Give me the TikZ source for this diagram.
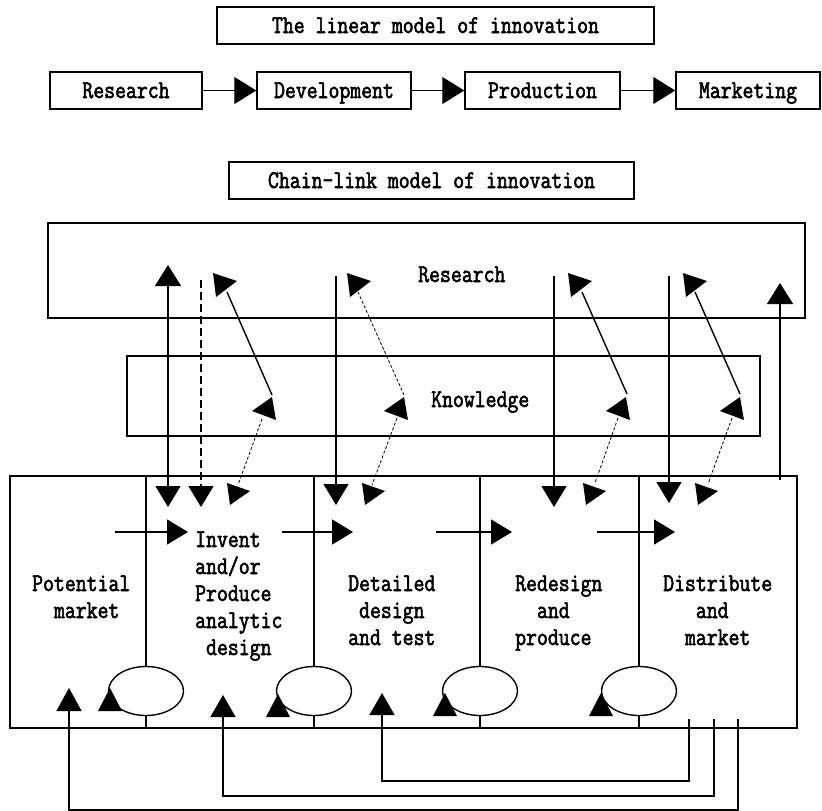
\documentclass[tikz,border=0pt]{standalone}
\usepackage{fontspec}
\newfontfamily\diagfont{Latin Modern Mono}[FakeStretch=0.83,FakeBold=2.2]
\usetikzlibrary{arrows.meta,shapes.geometric}

\begin{document}
\begin{tikzpicture}[x=1pt,y=-1pt,
  font=\diagfont\fontsize{25.5}{27}\selectfont,
  box/.style={draw,line width=1.5pt,inner sep=0pt,text height=15pt,text depth=0pt},
  conn/.style={line width=1.4pt},
  dots/.style={line width=0.8pt,dash pattern=on 3pt off 2pt},
  dashline/.style={line width=1.4pt,dash pattern=on 8pt off 4pt},
  coltext/.style={anchor=base west,inner sep=0pt},
  loop/.style={draw,ellipse,line width=1.4pt,minimum width=75pt,minimum height=49pt,inner sep=0pt},
  Hd/.tip={Triangle[length=21pt,width=25pt]},
  Hl/.tip={Triangle[length=22pt,width=27pt]},
  rhead/.pic={\fill (0,0) -- (24,8) -- (3,24) -- cycle;},
  khead/.pic={\fill (0,0) -- (-20,14) -- (4,23) -- cycle;},
  chead/.pic={\fill (0,0) -- (23,8) -- (3,22) -- cycle;},
  uhead/.pic={\fill (-12,0) -- (12,0) -- (0,-23) -- cycle;}
]
\useasboundingbox (0,0) rectangle (822,811);

% ---- linear model ----
\node[box,minimum width=437pt,minimum height=37pt] (ltitle) at (435.5,25.5) {The linear model of innovation};
\node[box,minimum width=152pt,minimum height=37pt] (lres) at (126,90.5) {Research};
\node[box,minimum width=154pt,minimum height=37pt] (ldev) at (334,90.5) {Development};
\node[box,minimum width=155pt,minimum height=37pt] (lpro) at (542.5,90.5) {Production};
\node[box,minimum width=144pt,minimum height=37pt] (lmar) at (748,90.5) {Marketing};
\draw[conn,-Hl] (lres.east) -- (ldev.west);
\draw[conn,-Hl] (ldev.east) -- (lpro.west);
\draw[conn,-Hl] (lpro.east) -- (lmar.west);

% ---- chain-link model ----
\node[box,minimum width=405pt,minimum height=37pt] (ctitle) at (431.5,180.5) {Chain-link model of innovation};
\node[box,minimum width=757pt,minimum height=95pt] (research) at (426.5,270.5) {};
\node[coltext] (researchlbl) at (418,282) {Research};
\node[box,minimum width=633pt,minimum height=80pt] (knowledge) at (443.5,396) {};
\node[coltext] (knowledgelbl) at (431,407) {Knowledge};
\node[box,minimum width=787pt,minimum height=252pt] (main) at (403.5,602) {};

% loops on the stage boundaries
\node[loop] (e1) at (146,691) {};
\node[loop] (e2) at (314,691) {};
\node[loop] (e3) at (480,691) {};
\node[loop] (e4) at (639,691) {};
\foreach \e in {e1,e2,e3,e4}{
  \draw[conn] (\e.north) -- (\e.north |- main.north);
  \draw[conn] (\e.south) -- (\e.south |- main.south);
}
\pic at (110,711) {uhead};
\pic at (278,717) {uhead};
\pic at (445,716) {uhead};
\pic at (601,716) {uhead};

% stage texts
\node[coltext] (s1) at (32,591) {\begin{tabular}[t]{@{}l@{}}Potential\\\hphantom{mm}market\end{tabular}};
\node[coltext] (s2) at (195,547) {\begin{tabular}[t]{@{}l@{}}Invent\\and/or\\Produce\\analytic\\\hphantom{m}design\end{tabular}};
\node[coltext] (s3) at (348,591) {\begin{tabular}[t]{@{}l@{}}Detailed\\\hphantom{m}design\\and test\end{tabular}};
\node[coltext] (s4) at (515,591) {\begin{tabular}[t]{@{}l@{}}Redesign\\\hphantom{mm}and\\produce\end{tabular}};
\node[coltext] (s5) at (663,591) {\begin{tabular}[t]{@{}l@{}}Distribute\\\hphantom{mmm}and\\\hphantom{mm}market\end{tabular}};

% chain of forward links
\draw[conn,-Hd] (115,532) -- (188,532);
\draw[conn,-Hd] (282,532) -- (353,532);
\draw[conn,-Hd] (436,532) -- (512,532);
\draw[conn,-Hd] (597,532) -- (675,532);

% research <-> stages
\draw[conn,{Triangle[length=21pt,width=26pt]}-Hd] (168,265) -- (168,507);
\draw[dashline,-Hd] (201,280) -- (201,507);
\draw[conn,-Hd] (336,276) -- (336,505);
\draw[conn,-Hd] (554,276) -- (554,507);
\draw[conn,-Hd] (669,276) -- (669,503);
\draw[conn,-{Triangle[length=21pt,width=26pt]}] (780,480) -- (780,283);

% knowledge -> research
\draw[conn] (272,395) -- (227,292);
\draw[dots] (404,395) -- (358,292);
\draw[conn] (627,394) -- (582,292);
\draw[conn] (740,394) -- (695,292);
\foreach \q in {213,347,568,683} \pic at (\q,273) {rhead};
\foreach \p in {272,404,626,740} \pic at (\p,397) {khead};

% knowledge <-> stages
\draw[dots] (262,419) -- (238,485);
\draw[dots] (397,418) -- (372,485);
\draw[dots] (618,418) -- (595,483);
\draw[dots] (732,418) -- (708,484);
\foreach \r in {227,362,583,695} \pic at (\r,483) {chead};

% feedback loops along the bottom
\draw[conn,-{Triangle[length=23pt,width=25pt]}] (738,719) -- (738,810) -- (69,810) -- (69,688);
\draw[conn,-{Triangle[length=22pt,width=25pt]}] (714,719) -- (714,796) -- (223,796) -- (223,695);
\draw[conn,-{Triangle[length=22pt,width=25pt]}] (689,719) -- (689,781) -- (382,781) -- (382,693);
\end{tikzpicture}
\end{document}
